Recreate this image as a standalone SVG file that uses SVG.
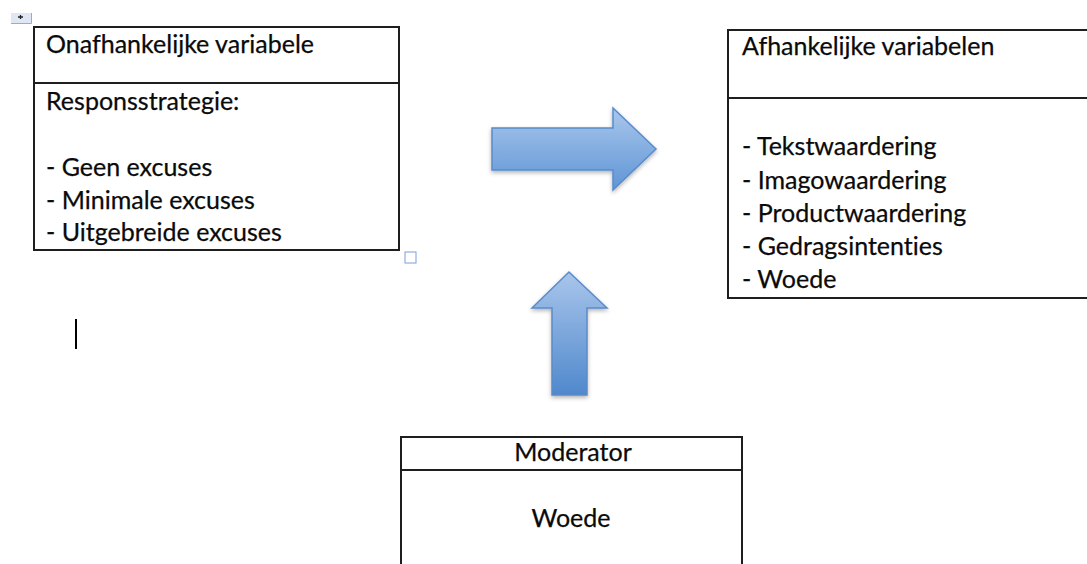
<svg xmlns="http://www.w3.org/2000/svg" width="1087" height="564" viewBox="0 0 1087 564">
<defs>
<style>
.box{fill:#fff;stroke:#1e1e1e;stroke-width:2}
.div{stroke:#1e1e1e;stroke-width:2}
.t{font-family:Lato,"Open Sans",sans-serif;font-size:25px;fill:#0a0a0a;font-variant-ligatures:none;stroke:#0a0a0a;stroke-width:0.25}
.c{text-anchor:middle}
.arrow{stroke:#5a8bcb;stroke-width:1.5;filter:url(#sh)}
</style>
<linearGradient id="gh" x1="0" y1="0" x2="0" y2="1">
<stop offset="0" stop-color="#a9c7ec"/>
<stop offset="1" stop-color="#5f95d5"/>
</linearGradient>
<linearGradient id="gv" x1="0" y1="0" x2="0" y2="1">
<stop offset="0" stop-color="#a9c6eb"/>
<stop offset="1" stop-color="#4f88cc"/>
</linearGradient>
<filter id="sh" x="-20%" y="-20%" width="140%" height="150%">
<feDropShadow dx="0" dy="2" stdDeviation="2" flood-color="#000" flood-opacity="0.3"/>
</filter>
</defs>

<g id="handle">
<rect x="11" y="13" width="20" height="10" fill="#dfe7f5"/>
<path d="M11,23.5 H31.5 V13" fill="none" stroke="#8eaee0" stroke-width="1"/>
<path d="M18,17 H23 M20.5,15 V19" stroke="#222" stroke-width="1.3"/>
</g>

<g id="node-onafhankelijk">
<rect class="box" x="34" y="27" width="365" height="223"/>
<line class="div" x1="34" y1="83" x2="399" y2="83"/>
<text class="t" x="46" y="53">Onafhankelijke variabele</text>
<text class="t" x="46" y="110">Responsstrategie:</text>
<text class="t" x="46" y="176">- Geen excuses</text>
<text class="t" x="46" y="208.5">- Minimale excuses</text>
<text class="t" x="46" y="241">- Uitgebreide excuses</text>
</g>

<rect id="resize-handle" x="405" y="252" width="11" height="11" fill="#fff" stroke="#7d9edb" stroke-width="1"/>

<g id="node-afhankelijk">
<rect class="box" x="728" y="30" width="400" height="268"/>
<line class="div" x1="728" y1="98" x2="1087" y2="98"/>
<text class="t" x="742" y="55">Afhankelijke variabelen</text>
<text class="t" x="742" y="155">- Tekstwaardering</text>
<text class="t" x="742" y="188.5">- Imagowaardering</text>
<text class="t" x="742" y="221.5">- Productwaardering</text>
<text class="t" x="742" y="255">- Gedragsintenties</text>
<text class="t" x="742" y="288">- Woede</text>
</g>

<g id="node-moderator">
<rect class="box" x="401" y="437" width="341" height="200"/>
<line class="div" x1="401" y1="470" x2="742" y2="470"/>
<text class="t c" x="573" y="461">Moderator</text>
<text class="t c" x="571" y="527">Woede</text>
</g>

<g id="connectors">
<path class="arrow" fill="url(#gh)" d="M492,128 H613 V108 L656,149 L613,190 V170 H492 Z"/>
<path class="arrow" fill="url(#gv)" d="M569,272 L607,308 H587 V395 H552 V308 H532 Z"/>
</g>

<rect id="cursor" x="75" y="319" width="2" height="30" fill="#000"/>
</svg>
